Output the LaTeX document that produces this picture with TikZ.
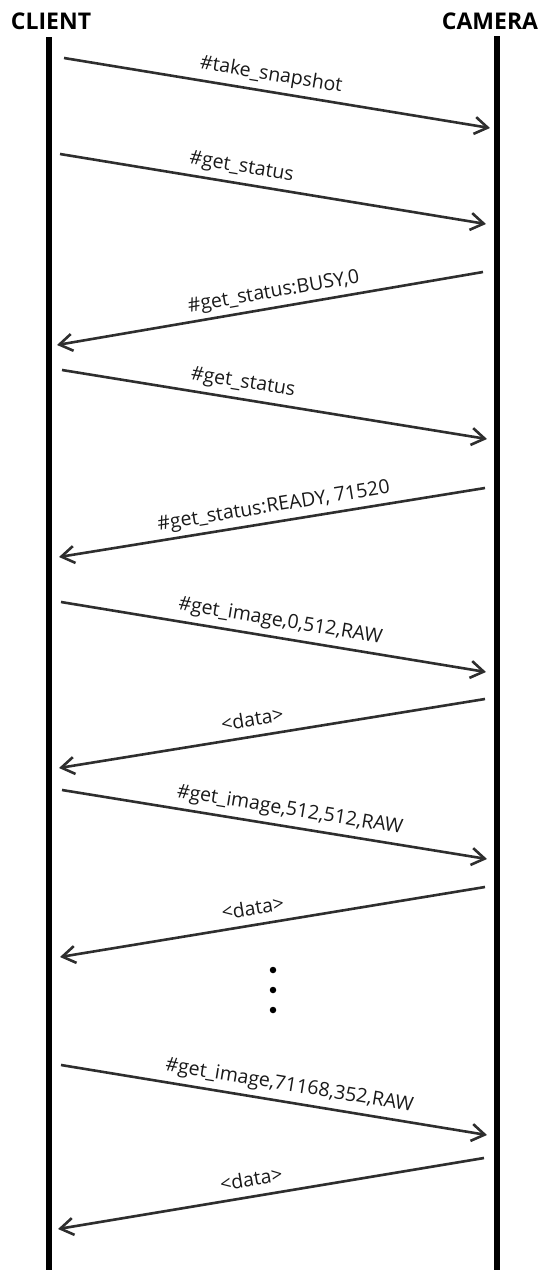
\documentclass[tikz,border=0pt]{standalone}
\usepackage{fontspec}
\setmainfont{Open Sans}
\usetikzlibrary{arrows.meta}
\begin{document}
\begin{tikzpicture}[x=1pt,y=-1pt,
  lifeline/.style={line width=6pt,black},
  msg/.style={line width=2.6pt,draw=black!82,-{Straight Barb[length=13pt,width=17pt,line width=2.6pt]}},
  lbl/.style={sloped,above=10pt,inner sep=0pt,text depth=0pt,font=\fontsize{19.5}{22}\selectfont,text=black!90},
  head/.style={font=\bfseries\fontsize{23}{26}\selectfont,inner sep=0pt},
  dot/.style={circle,fill=black,inner sep=0pt,minimum size=6.5pt}]
\useasboundingbox (0,0) rectangle (541,1270);
\node[head] (client) at (51,21) {CLIENT};
\node[head] (camera) at (490,21) {CAMERA};
\coordinate (ctop) at (49,37); \coordinate (cbot) at (49,1270);
\coordinate (mtop) at (497,36); \coordinate (mbot) at (497,1270);
\draw[lifeline] (ctop) -- (cbot);
\draw[lifeline] (mtop) -- (mbot);
% messages
\coordinate (a1) at (64,58);  \coordinate (b1) at (490,128);
\coordinate (a2) at (60,154); \coordinate (b2) at (486,224);
\coordinate (b3) at (483,272); \coordinate (a3) at (57,345);
\coordinate (a4) at (62,370); \coordinate (b4) at (487,439);
\coordinate (b5) at (485,488); \coordinate (a5) at (59,557);
\coordinate (a6) at (61,602); \coordinate (b6) at (486,672);
\coordinate (b7) at (485,699); \coordinate (a7) at (59,768);
\coordinate (a8) at (62,790); \coordinate (b8) at (487,859);
\coordinate (b9) at (485,887); \coordinate (a9) at (60,957);
\coordinate (a10) at (61,1065); \coordinate (b10) at (487,1135);
\coordinate (b11) at (484,1158); \coordinate (a11) at (58,1229);
\draw[msg] (a1) -- node[lbl,pos=0.48] (l1) {\#take\_snapshot} (b1);
\draw[msg] (a2) -- node[lbl,pos=0.42] (l2) {\#get\_status} (b2);
\draw[msg] (b3) -- (a3);
\path (b3) -- node[lbl,pos=0.485] (l3) {\#get\_status:BUSY,0} (a3);
\draw[msg] (a4) -- node[lbl,pos=0.42] (l4) {\#get\_status} (b4);
\draw[msg] (b5) -- (a5);
\path (b5) -- node[lbl,pos=0.49] (l5) {\#get\_status:READY, 71520} (a5);
\draw[msg] (a6) -- node[lbl,pos=0.51] (l6) {\#get\_image,0,512,RAW} (b6);
\draw[msg] (b7) -- (a7);
\path (b7) -- node[lbl,pos=0.54] (l7) {<data>} (a7);
\draw[msg] (a8) -- node[lbl,pos=0.53] (l8) {\#get\_image,512,512,RAW} (b8);
\draw[msg] (b9) -- (a9);
\path (b9) -- node[lbl,pos=0.54] (l9) {<data>} (a9);
\node[dot] (d1) at (273,970) {};
\node[dot] (d2) at (273,990) {};
\node[dot] (d3) at (273,1010) {};
\draw[msg] (a10) -- node[lbl,pos=0.53] (l10) {\#get\_image,71168,352,RAW} (b10);
\draw[msg] (b11) -- (a11);
\path (b11) -- node[lbl,pos=0.54] (l11) {<data>} (a11);
\end{tikzpicture}
\end{document}
